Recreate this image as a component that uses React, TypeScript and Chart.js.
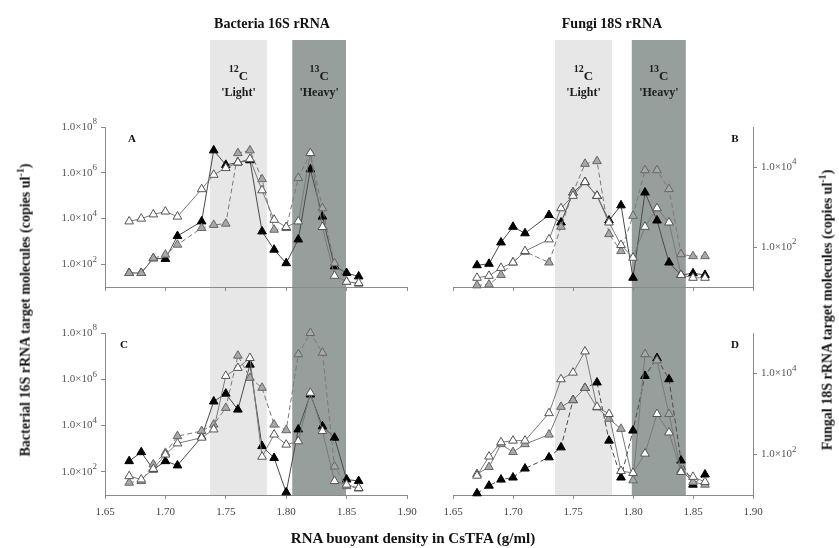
import React, { useEffect, useRef } from 'react';
import { Chart, registerables } from 'chart.js';
Chart.register(...registerables);

// ---------- DATA ----------
const densities = [1.67, 1.68, 1.69, 1.70, 1.71, 1.73, 1.74, 1.75, 1.76, 1.77, 1.78, 1.79, 1.80, 1.81, 1.82, 1.83, 1.84, 1.85, 1.86];

// Panel A – bacteria 16S (copies/ul)
const aBlack = [41, 41, 180, 170, 1.7e3, 7.4e3, 9.5e6, 2.2e6, 2.8e6, 3.5e6, 2.7e3, 430, 110, 1.2e3, 1.4e6, 1.2e4, 80, 41, 29];
const aWhite = [7.4e3, 9.8e3, 1.5e4, 2.0e4, 1.2e4, 1.9e5, 8.1e5, 1.6e6, 2.8e6, 4.0e6, 1.7e5, 8.7e3, 4.2e3, 7.4e3, 7.2e6, 4.2e3, 31, 17, 15];
const aGray = [41, 41, 180, 260, 710, 3.8e3, 5.2e3, 5.9e3, 7.2e6, 9.5e6, 5.2e5, 3.2e3, 3.8e3, 5.9e5, 7.2e6, 2.8e4, 110, 17, 14];

// Panel B – fungi 18S
const bBlack = [35, 38, 130, 320, 220, 630, 410, 2.3e3, 4.2e3, 1.9e3, 460, 1.1e3, 17, 2.3e3, 460, 41, 20, 22, 20];
const bWhite = [17, 19, 30, 41, 79, 155, 930, 1.9e3, 4.2e3, 1.9e3, 410, 112, 54, 320, 930, 410, 20, 17, 17];
const bGray = [11, 11.5, 20, 41, 76, 41, 320, 2.3e3, 1.2e4, 1.4e4, 210, 79, 600, 8.3e3, 8.3e3, 2.8e3, 66, 59, 59];

// Panel C – bacteria 16S
const cBlack = [290, 710, 126, 290, 190, 3.2e3, 1.1e5, 2.4e5, 4.9e4, 4.3e6, 1.3e3, 400, 13, 6.8e3, 2.2e5, 9.3e3, 3.0e3, 47, 40];
const cWhite = [65, 47, 135, 560, 1.7e3, 3.0e3, 6.8e3, 1.4e6, 3.1e6, 8.3e6, 450, 4.1e3, 1.5e3, 2.1e3, 2.6e5, 5.8e3, 40, 28, 20];
const cGray = [34, 40, 210, 660, 3.5e3, 5.8e3, 1.1e4, 5.8e4, 1.05e7, 1.15e6, 4.3e5, 1.1e4, 6.3e3, 1.2e7, 1.0e8, 1.4e7, 170, 24, 19];

// Panel D – fungi 18S
const dBlack = [11, 17, 24, 27, 45, 85, 150, 2.2e3, 4.4e3, 6.0e3, 220, 27, 390, 8.7e3, 2.4e4, 7.2e3, 71, 18, 32];
const dWhite = [30, 89, 200, 220, 220, 1.05e3, 7.2e3, 1.05e4, 3.5e4, 1.5e3, 1.0e3, 39, 35, 105, 1.0e3, 350, 37, 28, 21];
const dGray = [33, 49, 180, 115, 180, 310, 1.5e3, 2.2e3, 4.4e3, 1.45e3, 760, 430, 23, 3.0e4, 2.1e4, 1.0e3, 41, 21, 18];

const xTickValues = [1.65, 1.70, 1.75, 1.80, 1.85, 1.90];
const bacteriaTicks = [1e2, 1e4, 1e6, 1e8];
const fungiTicks = [1e2, 1e4];
// band edges: [light from, light to, heavy from, heavy to]
const bacteriaBandEdges = [1.737, 1.784, 1.805, 1.8495];
const fungiBandEdges = [1.735, 1.7825, 1.799, 1.844];

// ---------- STYLES ----------
const SERIF = '"Liberation Serif", "Times New Roman", serif';
const LIGHT_BAND = '#e7e7e7';
const HEAVY_BAND = '#979f9d';
const AXIS = '#8a8a8a';

type Kind = 'black' | 'white' | 'gray';
function ds(label: string, vals: number[], kind: Kind, dashed: boolean) {
  const st = {
    black: { bg: '#000000', bd: '#000000', line: '#4a4a4a' },
    white: { bg: '#ffffff', bd: '#555555', line: '#7a7a7a' },
    gray: { bg: '#a8a8a8', bd: '#666666', line: '#7a7a7a' },
  }[kind];
  return {
    label,
    data: densities.map((x, i) => ({ x, y: vals[i] })),
    borderColor: st.line,
    borderWidth: 1,
    borderDash: dashed ? [5, 3] : [],
    pointStyle: 'triangle',
    pointRadius: 5,
    pointBackgroundColor: st.bg,
    pointBorderColor: st.bd,
    pointBorderWidth: 1,
    clip: false,
    tension: 0,
  };
}

const bandPlugin = {
  id: 'bands',
  beforeDraw(chart: any, _a: any, opts: any) {
    const { ctx, chartArea } = chart;
    const xs = chart.scales.x;
    const top = opts.top;
    const bottom = opts.toCanvasBottom ? chart.height : chartArea.bottom;
    const e = opts.edges;
    const bands = [
      { from: e[0], to: e[1], color: LIGHT_BAND, iso: '12', name: "'Light'" },
      { from: e[2], to: e[3], color: HEAVY_BAND, iso: '13', name: "'Heavy'" },
    ];
    ctx.save();
    bands.forEach((b) => {
      const x1 = xs.getPixelForValue(b.from);
      const x2 = xs.getPixelForValue(b.to);
      ctx.fillStyle = b.color;
      ctx.fillRect(x1, top, x2 - x1, bottom - top);
      if (opts.labels) {
        const cx = (x1 + x2) / 2;
        ctx.fillStyle = '#1a1a1a';
        ctx.textBaseline = 'alphabetic';
        ctx.font = `bold 10px ${SERIF}`;
        const w1 = ctx.measureText(b.iso).width;
        ctx.font = `bold 13px ${SERIF}`;
        const w2 = ctx.measureText('C').width;
        const sx = cx - (w1 + w2) / 2;
        ctx.font = `bold 10px ${SERIF}`;
        ctx.textAlign = 'left';
        ctx.fillText(b.iso, sx, opts.isoY - 4);
        ctx.font = `bold 13px ${SERIF}`;
        ctx.fillText('C', sx + w1, opts.isoY + 4);
        ctx.font = `bold 12px ${SERIF}`;
        ctx.textAlign = 'center';
        ctx.fillText(b.name, cx, opts.nameY);
      }
    });
    ctx.restore();
  },
};

const yLabelPlugin = {
  id: 'ylabels',
  afterDraw(chart: any, _a: any, opts: any) {
    const ys = chart.scales.y;
    const ca = chart.chartArea;
    const ctx = chart.ctx;
    ctx.save();
    ctx.fillStyle = '#555';
    ctx.textBaseline = 'middle';
    ctx.textAlign = 'left';
    opts.values.forEach((v: number) => {
      const y = ys.getPixelForValue(v);
      const base = '1.0×10';
      const exp = String(Math.round(Math.log10(v)));
      ctx.font = `11px ${SERIF}`;
      const bw = ctx.measureText(base).width;
      ctx.font = `9px ${SERIF}`;
      const ew = ctx.measureText(exp).width;
      const x0 = opts.side === 'left' ? ca.left - opts.gap - bw - ew : ca.right + opts.gap;
      ctx.font = `11px ${SERIF}`;
      ctx.fillText(base, x0, y);
      ctx.font = `9px ${SERIF}`;
      ctx.fillText(exp, x0 + bw, y - 5);
    });
    ctx.restore();
  },
};

interface PanelCfg {
  left: number; top: number; width: number; height: number;
  pad: { left: number; right: number; top: number; bottom: number };
  yMax: number; yTicks: number[]; side: 'left' | 'right'; yWidth: number;
  xLabels: boolean; xHeight: number;
  edges: number[]; bandTop: number; toCanvasBottom: boolean; bandLabels: boolean;
  datasets: any[];
}

function Panel({ cfg }: { cfg: PanelCfg }) {
  const ref = useRef<HTMLCanvasElement>(null);
  useEffect(() => {
    if (!ref.current) return;
    const chart = new Chart(ref.current, {
      type: 'line',
      data: { datasets: cfg.datasets },
      plugins: [bandPlugin, yLabelPlugin],
      options: {
        animation: false,
        responsive: false,
        maintainAspectRatio: false,
        layout: { padding: cfg.pad },
        plugins: {
          legend: { display: false },
          tooltip: { enabled: false },
          bands: { edges: cfg.edges, top: cfg.bandTop, toCanvasBottom: cfg.toCanvasBottom, labels: cfg.bandLabels, isoY: 76, nameY: 96 },
          ylabels: { values: cfg.yTicks, side: cfg.side, gap: 8 },
        } as any,
        scales: {
          x: {
            type: 'linear',
            min: 1.65,
            max: 1.90,
            afterBuildTicks: (s: any) => { s.ticks = xTickValues.map((v) => ({ value: v })); },
            afterFit: (s: any) => {
              s.height = cfg.xHeight;
              s.paddingLeft = 0; s.paddingRight = 0; s.paddingTop = 0; s.paddingBottom = 0;
            },
            ticks: {
              display: cfg.xLabels,
              padding: 7,
              color: '#444',
              font: { family: SERIF, size: 11 },
              callback: (v: any) => Number(v).toFixed(2),
              maxRotation: 0,
            },
            grid: { drawOnChartArea: false, drawTicks: true, tickLength: 4, color: AXIS },
            border: { display: true, color: AXIS, width: 1 },
          },
          y: {
            type: 'logarithmic',
            position: cfg.side,
            min: 10,
            max: cfg.yMax,
            afterBuildTicks: (s: any) => { s.ticks = cfg.yTicks.map((v) => ({ value: v })); },
            afterFit: (s: any) => {
              s.width = cfg.yWidth;
              s.paddingLeft = 0; s.paddingRight = 0; s.paddingTop = 0; s.paddingBottom = 0;
            },
            ticks: { display: false },
            grid: { drawOnChartArea: false, drawTicks: true, tickLength: 4, color: AXIS },
            border: { display: true, color: AXIS, width: 1 },
          },
        },
      } as any,
    });
    return () => chart.destroy();
  }, []);
  return (
    <canvas
      ref={ref}
      width={cfg.width}
      height={cfg.height}
      style={{ position: 'absolute', left: cfg.left, top: cfg.top, width: cfg.width, height: cfg.height }}
    />
  );
}

const panels: PanelCfg[] = [
  {
    left: 0, top: 0, width: 420, height: 310,
    pad: { left: 0, right: 13, top: 127, bottom: 13 },
    yMax: 1e8, yTicks: bacteriaTicks, side: 'left', yWidth: 105, xLabels: false, xHeight: 10,
    edges: bacteriaBandEdges, bandTop: 40, toCanvasBottom: true, bandLabels: true,
    datasets: [ds('white', aWhite, 'white', false), ds('gray', aGray, 'gray', true), ds('black', aBlack, 'black', false)],
  },
  {
    left: 420, top: 0, width: 419, height: 310,
    pad: { left: 33, right: 0, top: 127, bottom: 13 },
    yMax: 1e5, yTicks: fungiTicks, side: 'right', yWidth: 86, xLabels: false, xHeight: 10,
    edges: fungiBandEdges, bandTop: 40, toCanvasBottom: true, bandLabels: true,
    datasets: [ds('white', bWhite, 'white', false), ds('gray', bGray, 'gray', true), ds('black', bBlack, 'black', false)],
  },
  {
    left: 0, top: 310, width: 420, height: 238,
    pad: { left: 0, right: 13, top: 23, bottom: 23 },
    yMax: 1e8, yTicks: bacteriaTicks, side: 'left', yWidth: 105, xLabels: true, xHeight: 30,
    edges: bacteriaBandEdges, bandTop: 0, toCanvasBottom: false, bandLabels: false,
    datasets: [ds('white', cWhite, 'white', false), ds('gray', cGray, 'gray', true), ds('black', cBlack, 'black', false)],
  },
  {
    left: 420, top: 310, width: 419, height: 238,
    pad: { left: 33, right: 0, top: 23, bottom: 23 },
    yMax: 1e5, yTicks: fungiTicks, side: 'right', yWidth: 86, xLabels: true, xHeight: 30,
    edges: fungiBandEdges, bandTop: 0, toCanvasBottom: false, bandLabels: false,
    datasets: [ds('white', dWhite, 'white', false), ds('gray', dGray, 'gray', false), ds('black', dBlack, 'black', true)],
  },
];

const textBase: React.CSSProperties = {
  position: 'absolute',
  fontFamily: SERIF,
  fontWeight: 'bold',
  color: '#111',
  whiteSpace: 'nowrap',
  transform: 'translate(-50%, -50%)',
  lineHeight: 1,
};

function Label({ x, y, size, rotate, children }: { x: number; y: number; size: number; rotate?: boolean; children: React.ReactNode }) {
  return (
    <div style={{ ...textBase, left: x, top: y, fontSize: size, transform: rotate ? 'translate(-50%, -50%) rotate(-90deg)' : textBase.transform }}>
      {children}
    </div>
  );
}

export default function App() {
  return (
    <div style={{ position: 'absolute', left: 0, top: 0, width: 839, height: 548, background: '#fff', overflow: 'hidden' }}>
      {panels.map((p, i) => <Panel key={i} cfg={p} />)}
      <Label x={272} y={24} size={14}>Bacteria 16S rRNA</Label>
      <Label x={612} y={24} size={14}>Fungi 18S rRNA</Label>
      <Label x={132} y={138} size={11}>A</Label>
      <Label x={735} y={138} size={11}>B</Label>
      <Label x={124} y={344} size={11}>C</Label>
      <Label x={735} y={344} size={11}>D</Label>
      <Label x={24} y={310} size={14} rotate>
        Bacterial 16S rRNA target molecules (copies ul<sup style={{ fontSize: 10 }}>-1</sup>)
      </Label>
      <Label x={826} y={310} size={14} rotate>
        Fungal 18S rRNA target molecules (copies ul<sup style={{ fontSize: 10 }}>-1</sup>)
      </Label>
      <Label x={413} y={538} size={15}>RNA buoyant density in CsTFA (g/ml)</Label>
    </div>
  );
}
